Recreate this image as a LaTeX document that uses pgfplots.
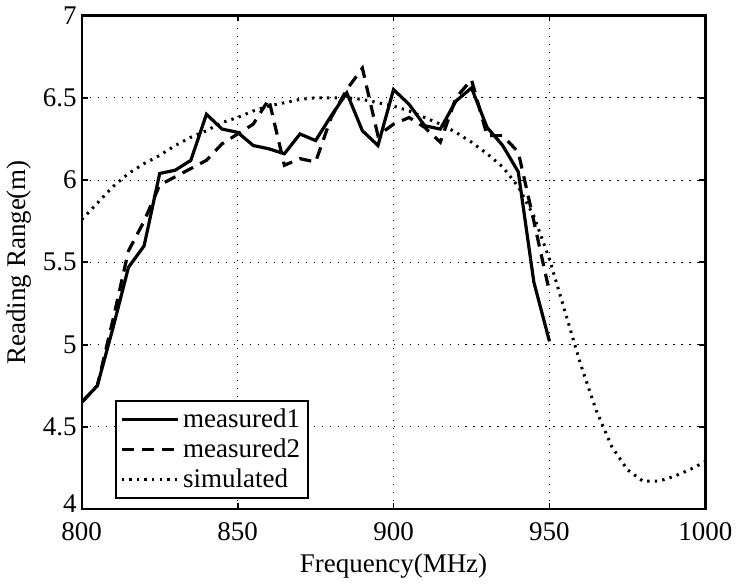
\documentclass[border=0pt]{standalone}
\usepackage{pgfplots}
\pgfplotsset{compat=1.18}
\usepackage{fontspec}
\setmainfont{Liberation Serif}

\begin{document}
\begin{tikzpicture}
\begin{axis}[
    scale only axis,
    width=312pt, height=247pt,
    xmin=800, xmax=1000, ymin=4, ymax=7,
    xtick={800,850,900,950,1000},
    ytick={4.5,5,5.5,6,6.5,7},
    extra y ticks={4},
    extra y tick style={yticklabel style={yshift=3pt}},
    /pgf/number format/1000 sep={},
    /pgf/number format/assume math mode=true,
    tick label style={font=\fontsize{13.5}{16}\selectfont},
    label style={font=\fontsize{13.5}{16}\selectfont},
    xlabel={Frequency(MHz)},
    ylabel={Reading Range(m)},
    xlabel style={yshift=0pt},
    ylabel style={yshift=-1pt},
    xticklabel style={yshift=-3pt},
    yticklabel style={xshift=1pt},
    tick align=inside,
    major tick length=3pt,
    tick style={black, line width=0.9pt},
    axis line style={line width=1.2pt},
    grid=major,
    major grid style={black, line width=0.5pt, dash pattern=on 0.6pt off 3.4pt},
    legend style={at={(0.053,0.02)}, anchor=south west, draw=black, line width=1.2pt,
        font=\fontsize{13.5}{16}\selectfont, inner sep=2pt, row sep=0pt,
        cells={anchor=west}},
    legend image code/.code={\draw[#1] (0pt,0pt) -- (28pt,0pt);},
]
\addplot[black, line width=1.6pt] coordinates {
(800,4.65) (805,4.75) (810,5.10) (815,5.47) (820,5.60) (825,6.04) (830,6.06)
(835,6.12) (840,6.40) (845,6.31) (850,6.29) (855,6.21) (860,6.19) (865,6.16)
(870,6.28) (875,6.24) (880,6.39) (885,6.53) (890,6.30) (895,6.21) (900,6.55)
(905,6.46) (910,6.33) (915,6.31) (920,6.48) (925,6.56) (930,6.32) (935,6.21)
(940,6.05) (945,5.38) (950,5.02)
};
\addlegendentry{measured1}
\addplot[black, line width=1.6pt, dash pattern=on 6pt off 4pt] coordinates {
(800,4.65) (805,4.75) (810,5.15) (815,5.57) (820,5.75) (825,5.97) (830,6.02)
(835,6.07) (840,6.12) (845,6.22) (850,6.28) (855,6.34) (860,6.49) (865,6.09)
(870,6.13) (875,6.11) (880,6.38) (885,6.55) (890,6.68) (895,6.27) (900,6.34)
(905,6.38) (910,6.32) (915,6.23) (920,6.50) (925,6.61) (930,6.27) (935,6.27)
(940,6.17) (945,5.75) (950,5.32)
};
\addlegendentry{measured2}
\addplot[black, line width=1.5pt, dash pattern=on 1.2pt off 2.6pt] coordinates {
(800,5.76) (805,5.86) (810,5.96) (815,6.04) (820,6.10) (825,6.15) (830,6.21)
(835,6.26) (840,6.30) (845,6.35) (850,6.38) (855,6.42) (860,6.45) (865,6.47)
(870,6.49) (875,6.50) (880,6.50) (885,6.50) (890,6.49) (895,6.47) (900,6.45)
(905,6.42) (910,6.38) (915,6.34) (920,6.29) (925,6.23) (930,6.16) (935,6.08)
(940,5.96) (945,5.78) (950,5.52) (955,5.20) (960,4.88) (965,4.60) (970,4.38)
(975,4.24) (980,4.17) (985,4.17) (990,4.20) (995,4.24) (1000,4.29)
};
\addlegendentry{simulated}
\end{axis}
\end{tikzpicture}
\end{document}
